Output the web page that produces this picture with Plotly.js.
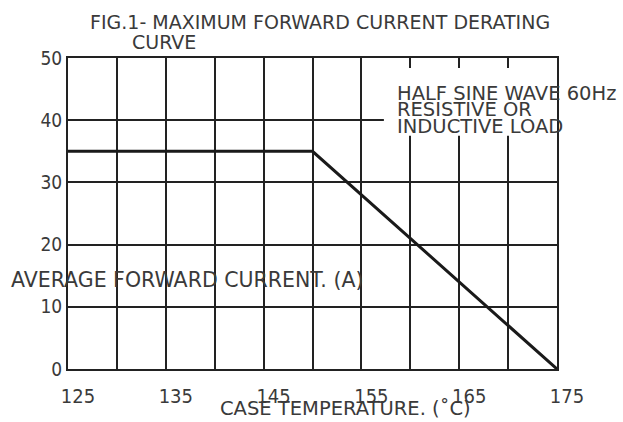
<!DOCTYPE html>
<html><head><meta charset="utf-8">
<script src="https://cdn.plot.ly/plotly-3.0.1.min.js"></script>
<style>html,body{margin:0;padding:0;background:#fff;}#c{width:623px;height:422px;}</style>
</head><body><div id="c"></div>
<script>
const temps = [125, 150, 175];
const current = [35, 35, 0];
const xTickVals = [125,130,135,140,145,150,155,160,165,170,175];
const xTickText = ["125","","135","","145","","155","","165","","175"];
const yTickVals = [0,10,20,30,40,50];
const yTickText = ["0","10","20","30","40","50"];
const titleLine1 = "FIG.1- MAXIMUM FORWARD CURRENT DERATING";
const titleLine2 = "CURVE";
const noteLines = ["HALF SINE WAVE 60Hz","RESISTIVE OR","INDUCTIVE LOAD"];
const yTitle = "AVERAGE FORWARD CURRENT. (A)";
const xTitle = "CASE TEMPERATURE. (˚C)";

const FC = "DejaVu Sans Condensed, DejaVu Sans, sans-serif";
const F = "DejaVu Sans, sans-serif";
const TC = "#3a3a3a";
const L = 68, T = 58, W = 489, H = 311;
const px = v => (v - L) / W;
const py = v => (T + H - v) / H;

const trace = {x: temps, y: current, type: "scatter", mode: "lines",
  line: {color: "#1a1a1a", width: 3}, hoverinfo: "none"};

const ann = [
  {text: titleLine1, x: px(88), y: py(22.5), size: 19},
  {text: titleLine2, x: px(130), y: py(42.5), size: 19},
  {text: yTitle, x: px(9), y: py(280), size: 20.5},
  {text: xTitle, x: px(218), y: py(408), size: 19.5}
];
noteLines.forEach((t,i)=>{
  ann.push({text:t, x:px(395), y:py(93 + i*16.7), size: 19.5});
});
const annotations = ann.map(a => ({text: a.text, xref:"paper", yref:"paper", x:a.x, y:a.y,
  xanchor:"left", yanchor:"middle", showarrow:false, font:{family:F, size:a.size, color:TC}}));

const layout = {
  width: 623, height: 422,
  margin: {l: L, r: 623 - L - W, t: T, b: 422 - T - H},
  paper_bgcolor: "#fff", plot_bgcolor: "#fff",
  showlegend: false,
  xaxis: {range: [125,175], tickvals: xTickVals, ticktext: xTickText, showgrid: true, gridcolor: "#222", gridwidth: 2,
    showline: true, mirror: true, linecolor: "#222", linewidth: 2, ticks: "", zeroline: false,
    tickfont: {family: FC, size: 20, color: TC}, ticklabelstandoff: 8, ticklabelshift: 10, fixedrange: true},
  yaxis: {range: [0,50], tickvals: yTickVals, ticktext: yTickText, showgrid: true, gridcolor: "#222", gridwidth: 2,
    showline: true, mirror: true, linecolor: "#222", linewidth: 2, ticks: "", zeroline: false,
    tickfont: {family: FC, size: 19, color: TC}, ticklabelstandoff: 0, fixedrange: true},
  shapes: [{type: "rect", layer: "between", xref: "x", yref: "y", x0: 157.3, x1: 175, y0: 37.5, y1: 48.4,
    fillcolor: "#fff", line: {width: 0}}],
  annotations: annotations
};
Plotly.newPlot("c", [trace], layout, {staticPlot: true, displayModeBar: false});
</script></body></html>
